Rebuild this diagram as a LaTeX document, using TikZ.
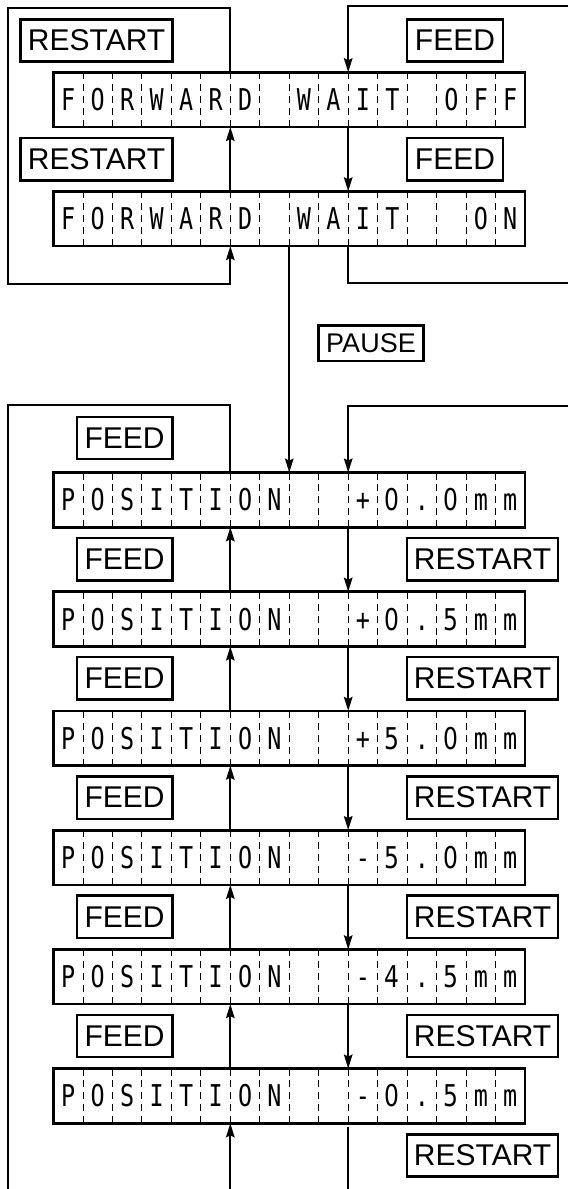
\documentclass[tikz,border=0pt]{standalone}
\usepackage{fontspec}
\setmainfont{Liberation Sans}
\newfontfamily\dispfont{DejaVu Sans Mono}
\newfontfamily\digfont{DejaVu Sans}
\usetikzlibrary{arrows.meta}

\newcommand\dc[1]{\scalebox{0.78}[1]{#1}}
\def\cw{29.47}
\def\xa{176.82pt}
\def\xb{235.76pt}
\def\xc{294.7pt}

\tikzset{
  disp/.style={draw, line width=2.7pt, minimum width=471.5pt, minimum height=54.7pt, inner sep=0pt, outer sep=0pt},
  lbl/.style={draw, line width=2.5pt, minimum height=42.4pt, inner sep=0pt, font=\fontsize{30}{30}\selectfont},
  feedlbl/.style={lbl, minimum width=95.7pt},
  restartlbl/.style={lbl, minimum width=151pt},
  conn/.style={line width=2.1pt},
  arr/.style={conn, -{Stealth[length=14pt,width=8.5pt,inset=2pt]}},
  cellline/.style={line width=0.9pt, dash pattern=on 7pt off 4.925pt},
  ch/.style={font=\dispfont\fontsize{30}{30}\selectfont, inner sep=0pt, anchor=base}
}

\newcommand\dispbox[3]{%
  \node[disp] (#1) at (289.25,#2) {};
  \foreach \k in {1,...,15}{%
    \draw[cellline] ([xshift=\k*\cw pt]#1.north west) -- ([xshift=\k*\cw pt]#1.south west);
  }
  \foreach \c [count=\i] in {#3}{%
    \node[ch] at ([xshift=\i*\cw pt-0.5*\cw pt, yshift=-11pt]#1.west) {\dc{\c}};
  }
}

\begin{document}
\begin{tikzpicture}[x=1pt,y=-1pt]
\useasboundingbox (0,0) rectangle (568,1189);
\fill[white] (0,0) rectangle (568,1189);

% display boxes
\dispbox{b1}{99.6}{F,O,R,W,A,R,D,{},W,A,I,T,{},O,F,F}
\dispbox{b2}{218.7}{F,O,R,W,A,R,D,{},W,A,I,T,{},{},O,N}
\dispbox{b3}{499.9}{P,O,S,I,T,I,O,N,{},{},+,{\digfont 0},.,{\digfont 0},m,m}
\dispbox{b4}{619.1}{P,O,S,I,T,I,O,N,{},{},+,{\digfont 0},.,{\digfont 5},m,m}
\dispbox{b5}{738.3}{P,O,S,I,T,I,O,N,{},{},+,{\digfont 5},.,{\digfont 0},m,m}
\dispbox{b6}{857.5}{P,O,S,I,T,I,O,N,{},{},-,{\digfont 5},.,{\digfont 0},m,m}
\dispbox{b7}{976.7}{P,O,S,I,T,I,O,N,{},{},-,{\digfont 4},.,{\digfont 5},m,m}
\dispbox{b8}{1095.9}{P,O,S,I,T,I,O,N,{},{},-,{\digfont 0},.,{\digfont 5},m,m}

% labels, top section
\node[restartlbl, minimum width=151.8pt] (r1) at (96.6,40.5) {RESTART};
\node[feedlbl, minimum width=96pt] (f1) at (455,40.5) {FEED};
\node[restartlbl, minimum width=151.8pt] (r2) at (96.6,159.2) {RESTART};
\node[feedlbl, minimum width=96pt] (f2) at (455,159.2) {FEED};

% pause label
\node[lbl, minimum width=104.6pt, minimum height=35.3pt, font=\fontsize{27}{27}\selectfont] (p) at (371,343.3) {PAUSE};

% labels, lower section
\node[feedlbl] (f3) at (124.6,438) {FEED};
\node[feedlbl] (f4) at (124.6,559.2) {FEED};
\node[feedlbl] (f5) at (124.6,678.4) {FEED};
\node[feedlbl] (f6) at (124.6,797.6) {FEED};
\node[feedlbl] (f7) at (124.6,916.8) {FEED};
\node[feedlbl] (f8) at (124.6,1036) {FEED};
\node[restartlbl] (r4) at (482.6,559.2) {RESTART};
\node[restartlbl] (r5) at (482.6,678.4) {RESTART};
\node[restartlbl] (r6) at (482.6,797.6) {RESTART};
\node[restartlbl] (r7) at (482.6,916.8) {RESTART};
\node[restartlbl] (r8) at (482.6,1036) {RESTART};
\node[restartlbl] (r9) at (482.6,1155.5) {RESTART};

% coordinates for loop corners and page-edge ends
\coordinate (L1) at (8,8);
\coordinate (L2) at (8,284.3);
\coordinate (R1) at (568,6);
\coordinate (R2) at (568,282.7);
\coordinate (L3) at (8,405);
\coordinate (L4) at (8,1189);
\coordinate (L5) at (230.32,1189);
\coordinate (R3) at (568,405.7);
\coordinate (R4) at (348.2,1189);

% top section connectors
\draw[arr] ([xshift=\xa]b1.north west) |- (L1) -- (L2) -| ([xshift=\xa]b2.south west);
\draw[arr] ([xshift=\xa]b2.north west) -- ([xshift=\xa]b1.south west);
\draw[arr] (R1) -| ([xshift=\xc]b1.north west);
\draw[arr] ([xshift=\xc]b1.south west) -- ([xshift=\xc]b2.north west);
\draw[conn] ([xshift=\xc]b2.south west) |- (R2);

% pause
\draw[arr] ([xshift=\xb]b2.south west) -- ([xshift=\xb]b3.north west);

% lower section connectors
\draw[conn] ([xshift=\xa]b3.north west) |- (L3) -- (L4);
\draw[arr] (R3) -| ([xshift=\xc]b3.north west);
\foreach \u/\v in {b3/b4,b4/b5,b5/b6,b6/b7,b7/b8}{%
  \draw[arr] ([xshift=\xa]\v.north west) -- ([xshift=\xa]\u.south west);
  \draw[arr] ([xshift=\xc]\u.south west) -- ([xshift=\xc]\v.north west);
}
\draw[arr] (L5) -- ([xshift=\xa]b8.south west);
\draw[conn, shorten <=4pt] ([xshift=\xc]b8.south west) -- (R4);
\end{tikzpicture}
\end{document}
